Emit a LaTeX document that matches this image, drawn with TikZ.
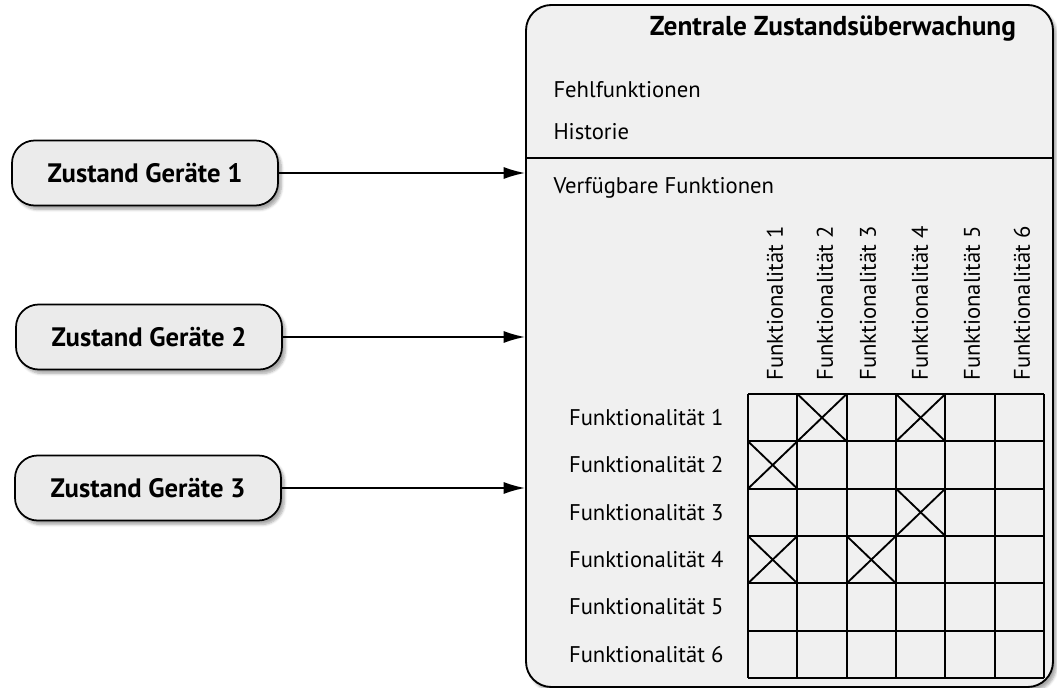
\documentclass[tikz,border=0pt]{standalone}
\usepackage{fontspec}
\setmainfont{PT Sans}
\usetikzlibrary{arrows.meta,shadows.blur}

\definecolor{panelgray}{RGB}{240,240,240}
\definecolor{boxgray}{RGB}{235,235,235}

\tikzset{every picture/.style={line width=0.75pt}}
\tikzset{
  devicebox/.style={draw, line width=1.3pt, rounded corners=17pt, fill=boxgray,
    minimum width=199.5pt, minimum height=48.75pt,
    blur shadow={shadow xshift=2.5pt, shadow yshift=-3pt, shadow blur steps=6, shadow opacity=35},
    font=\fontsize{20}{23}\selectfont\bfseries},
  panel/.style={draw, line width=1.4pt, rounded corners=19pt, fill=panelgray,
    blur shadow={shadow xshift=2.5pt, shadow yshift=-3pt, shadow blur steps=6, shadow opacity=35}},
  feed/.style={line width=1.3pt, -{Latex[length=16pt,width=9pt]}},
  txt/.style={font=\fontsize{17}{20}\selectfont, inner sep=0pt},
  cell/.style={line width=1.4pt}
}

\begin{document}
\begin{tikzpicture}[x=0.75pt,y=0.75pt,yscale=-1,xscale=1]
\useasboundingbox (0,0) rectangle (1057,688);

%Central panel
\node [panel, minimum width=395.25pt, minimum height=511.5pt] (monitor) at (789.5,346) {};
%Straight Lines (separator)
\draw [line width=1.4pt] (monitor.west |- 0,158) -- (monitor.east |- 0,158) ;

% Text Node
\node [txt, font=\fontsize{20.5}{24}\selectfont\bfseries] (title) at (833,29) {Zentrale Zustandsüberwachung};
% Text Node
\node [txt, anchor=west] (fehl) at (553,90) {Fehlfunktionen};
% Text Node
\node [txt, anchor=west] (hist) at (553,132) {Historie};
% Text Node
\node [txt, anchor=west] (verf) at (553,188) {Verfügbare Funktionen};

%Device states
\node [devicebox] (geraet1) at (145,173) {Zustand Geräte 1};
\node [devicebox] (geraet2) at (149,337) {Zustand Geräte 2};
\node [devicebox] (geraet3) at (148,488) {Zustand Geräte 3};

%Arrows into the panel
\foreach \g in {1,2,3}
  \draw [feed] (geraet\g.east) -- (geraet\g.east -| monitor.west) ;

%Function matrix (6 x 6)
\foreach \i in {0,...,6} {
  \draw [cell] (748+\i*49.33,394) -- (748+\i*49.33,678) ;
  \draw [cell] (748,394+\i*47.33) -- (1044,394+\i*47.33) ;
}
%Crosses: column/row
\foreach \c/\r in {2/1,4/1,1/2,4/3,1/4,3/4} {
  \draw [cell] (748+\c*49.33-49.33,394+\r*47.33-47.33) -- (748+\c*49.33,394+\r*47.33) ;
  \draw [cell] (748+\c*49.33-49.33,394+\r*47.33) -- (748+\c*49.33,394+\r*47.33-47.33) ;
}

%Row labels
\foreach \r in {1,...,6}
  \node [txt, anchor=east] (zeile\r) at (724,394+\r*47.33-23.67) {Funktionalität \r};
%Column labels
\foreach \c/\x in {1/775,2/825,3/868,4/920,5/972,6/1022}
  \node [txt, anchor=west, rotate=90] (spalte\c) at (\x,381) {Funktionalität \c};

\end{tikzpicture}
\end{document}
